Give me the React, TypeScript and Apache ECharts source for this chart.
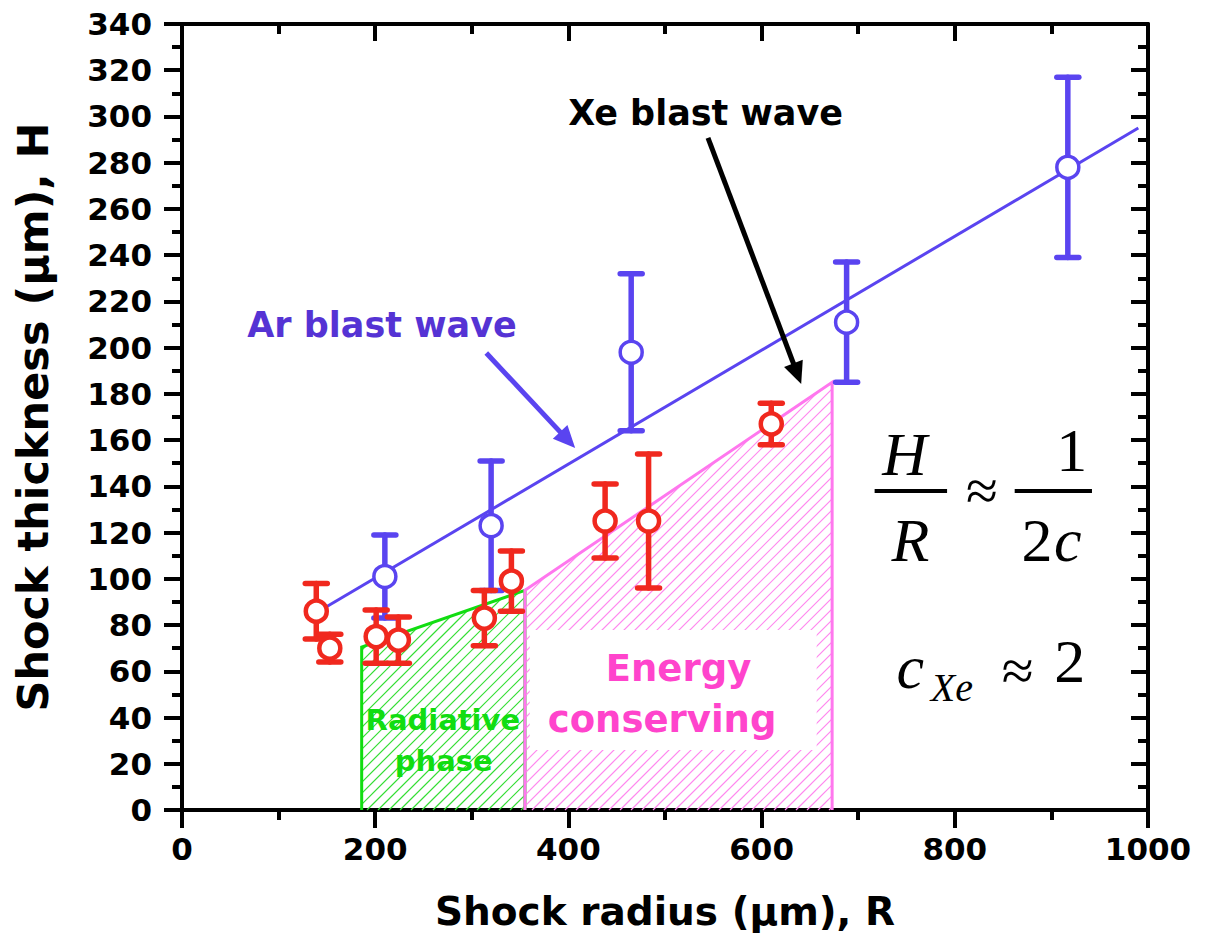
import React, { useEffect, useRef } from 'react';
import * as echarts from 'echarts';

// Axis ranges
const xMin = 0, xMax = 1000, xStep = 200;
const yMin = 0, yMax = 340, yStep = 20;

// Ar blast wave measurements (blue)
const arR = [210, 320, 465, 688, 917];
const arH = [101, 123, 198, 211, 278];
const arErr = [18, 28, 34, 26, 39];
// Ar linear fit endpoints
const arFitR = [150, 990];
const arFitH = [88, 295];

// Xe blast wave measurements (red)
const xeR = [139, 153, 201, 224, 313, 341, 438, 483, 610];
const xeH = [86, 70, 75, 73.5, 83, 99, 125, 125, 167];
const xeErr = [12, 6, 11.5, 10, 12, 13, 16, 29, 9];

// Shaded regions (polygon vertices: bottom-left, top-left, top-right, bottom-right)
const radiativeR = [186, 186, 355, 355];
const radiativeH = [0, 70.5, 95, 0];
const energyR = [355, 355, 673, 673];
const energyH = [0, 95, 185, 0];

const BLUE = '#5a44f0';
const BLUE_TXT = '#5533d4';
const RED = '#f0281e';
const GREEN = '#11dd11';
const PINK = '#ff77ee';
const PINK_TXT = '#ff44cc';
const SANS = 'DejaVu Sans';
const SERIF = 'Liberation Serif';

function regionSeries(rs: number[], hs: number[], stroke: string, hatch: string) {
  return {
    type: 'custom',
    silent: true,
    z: 1,
    data: [[rs[0], hs[0]]],
    renderItem: (_params: any, api: any) => {
      const pts = rs.map((r, i) => api.coord([r, hs[i]]));
      const x0 = pts[0][0], x1 = pts[2][0], yb = pts[0][1];
      const b = (pts[2][1] - pts[1][1]) / (pts[2][0] - pts[1][0]);
      const a = pts[1][1] - b * pts[1][0];
      const children: any[] = [];
      const step = 11;
      const cMin = Math.floor((x0 + Math.min(pts[1][1], pts[2][1])) / step) * step;
      const cMax = x1 + yb;
      for (let c = cMin; c <= cMax; c += step) {
        const xa = Math.max(x0, c - yb);
        const xb = Math.min(x1, (c - a) / (1 + b));
        if (xb > xa) {
          children.push({
            type: 'line',
            shape: { x1: xa, y1: c - xa, x2: xb, y2: c - xb },
            style: { stroke: hatch, lineWidth: 1.2 },
          });
        }
      }
      children.push({
        type: 'polyline',
        shape: { points: [pts[0], pts[1], pts[2], pts[3]] },
        style: { fill: 'none', stroke, lineWidth: 3 },
      });
      return { type: 'group', children };
    },
  };
}

function errSeries(rs: number[], hs: number[], es: number[], color: string) {
  return {
    type: 'custom',
    silent: true,
    z: 3,
    data: rs.map((r, i) => [r, hs[i] - es[i], hs[i] + es[i]]),
    encode: { x: 0, y: [1, 2] },
    renderItem: (_params: any, api: any) => {
      const r = api.value(0);
      const top = api.coord([r, api.value(2)]);
      const bot = api.coord([r, api.value(1)]);
      const cap = 11;
      const st = { stroke: color, lineWidth: 5.5, lineCap: 'round' };
      return {
        type: 'group',
        children: [
          { type: 'line', shape: { x1: top[0], y1: top[1], x2: bot[0], y2: bot[1] }, style: st },
          { type: 'line', shape: { x1: top[0] - cap, y1: top[1], x2: top[0] + cap, y2: top[1] }, style: st },
          { type: 'line', shape: { x1: bot[0] - cap, y1: bot[1], x2: bot[0] + cap, y2: bot[1] }, style: st },
        ],
      };
    },
  };
}

export default function App() {
  const ref = useRef<HTMLDivElement>(null);
  useEffect(() => {
    const chart = echarts.init(ref.current!, null, { renderer: 'svg' });
    const tickLine = { color: '#000', width: 4 };
    const labelStyle = { fontFamily: SANS, fontWeight: 'bold', fontSize: 31, color: '#000' };
    const option: any = {
      animation: false,
      backgroundColor: '#fff',
      grid: { left: 182, right: 58, top: 24, bottom: 132, containLabel: false },
      xAxis: [
        {
          type: 'value', min: xMin, max: xMax, interval: xStep, position: 'bottom',
          axisLine: { show: true, onZero: false, lineStyle: tickLine },
          axisTick: { show: true, inside: false, length: 18, lineStyle: tickLine },
          minorTick: { show: true, splitNumber: 2, length: 10, lineStyle: tickLine },
          splitLine: { show: false }, minorSplitLine: { show: false },
          axisLabel: { ...labelStyle, margin: 23, formatter: (v: number) => String(v) },
          name: 'Shock radius (μm), R', nameLocation: 'middle', nameGap: 82,
          nameTextStyle: { fontFamily: SANS, fontWeight: 'bold', fontSize: 39, color: '#000' },
        },
        {
          type: 'value', min: xMin, max: xMax, interval: xStep, position: 'top',
          axisLine: { show: true, onZero: false, lineStyle: tickLine },
          axisTick: { show: true, inside: true, length: 17, lineStyle: tickLine },
          minorTick: { show: true, splitNumber: 2, length: 10, lineStyle: tickLine },
          splitLine: { show: false }, axisLabel: { show: false },
        },
      ],
      yAxis: [
        {
          type: 'value', min: yMin, max: yMax, interval: yStep, position: 'left',
          axisLine: { show: true, onZero: false, lineStyle: tickLine },
          axisTick: { show: true, inside: false, length: 18, lineStyle: tickLine },
          minorTick: { show: true, splitNumber: 2, length: 10, lineStyle: tickLine },
          splitLine: { show: false }, minorSplitLine: { show: false },
          axisLabel: { ...labelStyle, margin: 30, formatter: (v: number) => String(v) },
          name: 'Shock thickness (μm), H', nameLocation: 'middle', nameGap: 128,
          nameTextStyle: { fontFamily: SANS, fontWeight: 'bold', fontSize: 43, color: '#000' },
        },
        {
          type: 'value', min: yMin, max: yMax, interval: yStep, position: 'right',
          axisLine: { show: true, onZero: false, lineStyle: tickLine },
          axisTick: { show: true, inside: true, length: 17, lineStyle: tickLine },
          minorTick: { show: true, splitNumber: 2, length: 10, lineStyle: tickLine },
          splitLine: { show: false }, axisLabel: { show: false },
        },
      ],
      series: [
        regionSeries(radiativeR, radiativeH, GREEN, '#33dd33'),
        regionSeries(energyR, energyH, PINK, '#ff88ee'),
        {
          type: 'line', z: 2, silent: true, showSymbol: false,
          data: arFitR.map((r, i) => [r, arFitH[i]]),
          lineStyle: { color: BLUE, width: 3 },
        },
        errSeries(arR, arH, arErr, BLUE),
        errSeries(xeR, xeH, xeErr, RED),
        {
          type: 'scatter', z: 4, symbol: 'circle', symbolSize: 22,
          data: arR.map((r, i) => [r, arH[i]]),
          itemStyle: { color: '#fff', borderColor: BLUE, borderWidth: 3.5, opacity: 1 },
        },
        {
          type: 'scatter', z: 4, symbol: 'circle', symbolSize: 21,
          data: xeR.map((r, i) => [r, xeH[i]]),
          itemStyle: { color: '#fff', borderColor: RED, borderWidth: 4.5, opacity: 1 },
        },
      ],
    };
    chart.setOption(option);

    const P = (r: number, h: number) =>
      chart.convertToPixel({ xAxisIndex: 0, yAxisIndex: 0 }, [r, h]) as number[];
    const text = (r: number, h: number, s: string, size: number, fill: string, family = SANS,
      weight = 'bold', style = 'normal', z = 10) => {
      const [x, y] = P(r, h);
      return {
        type: 'text', x, y, z, silent: true,
        style: { text: s, fill, fontFamily: family, fontWeight: weight, fontStyle: style,
          fontSize: size, align: 'center', verticalAlign: 'middle' },
      };
    };
    const arrow = (r1: number, h1: number, r2: number, h2: number, color: string) => {
      const p1 = P(r1, h1), p2 = P(r2, h2);
      const dx = p2[0] - p1[0], dy = p2[1] - p1[1];
      const len = Math.hypot(dx, dy);
      const ux = dx / len, uy = dy / len;
      const hl = 22, hw = 10;
      const bx = p2[0] - ux * hl, by = p2[1] - uy * hl;
      return [
        { type: 'line', z: 9, silent: true, shape: { x1: p1[0], y1: p1[1], x2: bx + ux * 2, y2: by + uy * 2 },
          style: { stroke: color, lineWidth: 5 } },
        { type: 'polygon', z: 9, silent: true,
          shape: { points: [[p2[0], p2[1]], [bx - uy * hw, by + ux * hw], [bx + uy * hw, by - ux * hw]] },
          style: { fill: color } },
      ];
    };
    const hline = (r1: number, r2: number, h: number) => {
      const p1 = P(r1, h), p2 = P(r2, h);
      return { type: 'line', z: 10, silent: true, shape: { x1: p1[0], y1: p1[1], x2: p2[0], y2: p2[1] },
        style: { stroke: '#000', lineWidth: 4 } };
    };
    const rectA = P(360, 77.9), rectB = P(657, 26);

    chart.setOption({
      graphic: [
        { type: 'rect', z: 5, silent: true,
          shape: { x: rectA[0], y: rectA[1], width: rectB[0] - rectA[0], height: rectB[1] - rectA[1] },
          style: { fill: '#fff' } },
        text(514, 61.4, 'Energy', 37, PINK_TXT),
        text(497, 39, 'conserving', 37, PINK_TXT),
        text(270, 39, 'Radiative', 29, GREEN),
        text(271, 21, 'phase', 29, GREEN),
        text(207, 209.8, 'Ar blast wave', 35, BLUE_TXT),
        text(542, 301.5, 'Xe blast wave', 35, '#000'),
        ...arrow(315, 197.7, 407, 156.6, BLUE),
        ...arrow(544.5, 290.7, 641, 184.3, '#000'),
        text(748, 154, 'H', 62, '#000', SERIF, 'normal', 'italic'),
        hline(717, 792, 138),
        text(754, 116.8, 'R', 62, '#000', SERIF, 'normal', 'italic'),
        text(828, 138, '≈', 58, '#000', SERIF, 'normal'),
        text(921, 155.7, '1', 62, '#000', SERIF, 'normal'),
        hline(862, 942, 138),
        text(885, 116.8, '2', 62, '#000', SERIF, 'normal'),
        text(917, 116.8, 'c', 62, '#000', SERIF, 'normal', 'italic'),
        text(754, 62, 'c', 62, '#000', SERIF, 'normal', 'italic'),
        text(797, 52.8, 'Xe', 40, '#000', SERIF, 'normal', 'italic'),
        text(865, 60.5, '≈', 58, '#000', SERIF, 'normal'),
        text(919, 64.4, '2', 62, '#000', SERIF, 'normal'),
      ],
    });
    return () => chart.dispose();
  }, []);
  return (
    <div
      ref={ref}
      style={{ position: 'fixed', left: 0, top: 0, width: 1206, height: 942, background: '#fff' }}
    />
  );
}
